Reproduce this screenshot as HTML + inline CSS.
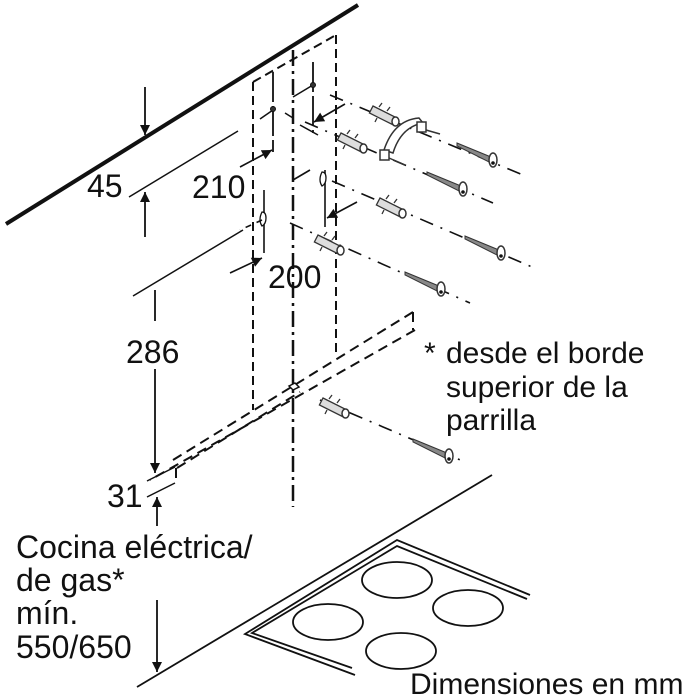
<!DOCTYPE html>
<html><head><meta charset="utf-8"><style>
html,body{margin:0;padding:0;background:#fff;}
svg{display:block;}
text{font-family:"Liberation Sans",Arial,sans-serif;fill:#111;}
</style></head><body>
<svg width="700" height="700" viewBox="0 0 700 700" xmlns="http://www.w3.org/2000/svg">
<defs>
<marker id="ah" viewBox="0 0 10 10" refX="10" refY="5" markerWidth="12" markerHeight="10" orient="auto" markerUnits="userSpaceOnUse">
<path d="M0,0 L10,5 L0,10 z" fill="#111"/></marker>
<g id="anchor">
<path d="M0,0 L24,12 L20.4,19 L-3.6,7 z" fill="#ddd" stroke="#333" stroke-width="1.3"/>
<path d="M6,1 l3,-4 M14,5 l3,-4 M4,12 l-2,4" stroke="#333" stroke-width="1.3"/>
<ellipse cx="22.5" cy="15.5" rx="3.5" ry="4.5" fill="#fff" stroke="#333" stroke-width="1.5"/>
</g>
<g id="screw">
<path d="M0,0 L34,14 L34,20 L0,3 z" fill="#888" stroke="#333" stroke-width="1"/>
<ellipse cx="36" cy="17" rx="4" ry="7" fill="#fff" stroke="#333" stroke-width="1.5"/>
<circle cx="36" cy="20" r="1.8" fill="#111"/>
</g>
</defs>

<g stroke="#111" fill="none">
<line x1="6" y1="224" x2="358" y2="5" stroke-width="4"/>
<line x1="145" y1="87" x2="145" y2="135" stroke-width="1.8" marker-end="url(#ah)"/>
<line x1="129" y1="197" x2="238" y2="131" stroke-width="1.5"/>
<line x1="145" y1="237" x2="145" y2="192" stroke-width="1.8" marker-end="url(#ah)"/>
<line x1="133" y1="296" x2="243" y2="230" stroke-width="1.5"/>
<line x1="155" y1="290" x2="155" y2="321" stroke-width="1.8"/>
<line x1="155" y1="369" x2="155" y2="473" stroke-width="1.8" marker-end="url(#ah)"/>
<line x1="147" y1="481" x2="175" y2="467" stroke-width="1.5"/>
<line x1="147" y1="497" x2="175" y2="483" stroke-width="1.5"/>
<line x1="157" y1="526" x2="157" y2="497" stroke-width="1.8" marker-end="url(#ah)"/>
<line x1="157" y1="600" x2="157" y2="672" stroke-width="1.8" marker-end="url(#ah)"/>
<line x1="137" y1="687" x2="492" y2="475" stroke-width="1.8"/>

<g stroke-width="2" stroke-dasharray="9,5">
<line x1="253" y1="82" x2="253" y2="410"/>
<line x1="253" y1="82" x2="336" y2="35"/>
<line x1="336" y1="35" x2="336" y2="357"/>
</g>
<line x1="293" y1="50" x2="293" y2="507" stroke-width="2.5" stroke-dasharray="16,5,3,5"/>
<line x1="273" y1="72" x2="273" y2="152" stroke-width="1.8" stroke-dasharray="30,4"/>
<line x1="313" y1="62" x2="313" y2="133" stroke-width="1.8" stroke-dasharray="30,4"/>
<line x1="264" y1="190" x2="264" y2="253" stroke-width="1.6"/>
<line x1="325" y1="170" x2="325" y2="227" stroke-width="1.6"/>
<polyline points="260,119 273,110" stroke-width="1.5"/>
<polyline points="293,97 313,85" stroke-width="1.5"/>
<line x1="285" y1="113" x2="293" y2="118" stroke-width="1.5"/>
<line x1="300" y1="125" x2="318" y2="135" stroke-width="1.5"/>
<circle cx="273" cy="109" r="2.5" fill="#333"/>
<circle cx="313" cy="85" r="2.5" fill="#333"/>
<path d="M262,212 q-4,8 0,14 q4,-2 4,-8 q0,-6 -4,-6z" stroke-width="1.3" fill="#fff"/>
<path d="M322,172 q-4,8 0,14 q4,-2 4,-8 q0,-6 -4,-6z" stroke-width="1.3" fill="#fff"/>
<line x1="240" y1="167" x2="272" y2="150" stroke-width="1.6" marker-end="url(#ah)"/>
<line x1="345" y1="104" x2="314" y2="122" stroke-width="1.6" marker-end="url(#ah)"/>
<line x1="230" y1="273" x2="262" y2="258" stroke-width="1.6" marker-end="url(#ah)"/>
<line x1="357" y1="202" x2="327" y2="218" stroke-width="1.6" marker-end="url(#ah)"/>

<g stroke-width="1.6" stroke-dasharray="14,8,2,8">
<line x1="330" y1="95" x2="523" y2="175"/>
<line x1="305" y1="122" x2="493" y2="203"/>
<line x1="332" y1="181" x2="532" y2="267"/>
<line x1="290" y1="223" x2="470" y2="303"/>
<line x1="320" y1="400" x2="465" y2="462"/>
</g>
<line x1="262" y1="220" x2="240" y2="230" stroke-width="1.6" stroke-dasharray="6,6"/>
<line x1="293" y1="180" x2="310" y2="170" stroke-width="1.6"/>

<g stroke-width="2" stroke-dasharray="10,6">
<line x1="173" y1="460" x2="413" y2="312"/>
<line x1="177" y1="468" x2="300" y2="392"/>
<line x1="413" y1="312" x2="413" y2="330"/>
<line x1="415" y1="330" x2="150" y2="480"/>
<line x1="176" y1="478" x2="176" y2="465"/>
</g>
<path d="M289,386 l6,-3 l4,4 l-6,3z" stroke-width="1.5" fill="#fff"/>

<g stroke-width="1.8">
<polyline points="355,675 245,634 397,540 530,595"/>
<polyline points="352,668 252,633 397,546 527,599"/>
<ellipse cx="397" cy="580" rx="35" ry="18"/>
<ellipse cx="468" cy="608" rx="35" ry="18"/>
<ellipse cx="328" cy="622" rx="35" ry="18"/>
<ellipse cx="401" cy="651" rx="35" ry="18"/>
</g>
</g>

<use href="#anchor" x="373" y="106"/>
<use href="#anchor" x="341" y="133"/>
<use href="#anchor" x="380" y="198"/>
<use href="#anchor" x="318" y="235"/>
<use href="#anchor" x="323" y="398"/>
<use href="#screw" x="457" y="143"/>
<use href="#screw" x="427" y="172"/>
<use href="#screw" x="465" y="236"/>
<use href="#screw" x="405" y="272"/>
<use href="#screw" x="413" y="439"/>
<g stroke="#333" stroke-width="1.5" fill="#fff">
<path d="M384,150 q10,-30 35,-32 l4,5 q-22,4 -30,30z"/>
<rect x="380" y="150" width="9" height="10"/>
<rect x="417" y="122" width="9" height="10"/>
<line x1="389" y1="158" x2="405" y2="165"/>
<line x1="426" y1="130" x2="440" y2="134"/>
</g>

<text x="87" y="197" font-size="32">45</text>
<text x="192" y="198" font-size="32">210</text>
<text x="268" y="288" font-size="32">200</text>
<text x="126" y="363" font-size="32">286</text>
<text x="107" y="507" font-size="32">31</text>
<text x="16" y="558" font-size="32">Cocina eléctrica/</text>
<text x="16" y="591" font-size="32">de gas*</text>
<text x="16" y="624" font-size="32">mín.</text>
<text x="16" y="658" font-size="32">550/650</text>
<text x="424" y="363" font-size="30">*</text>
<text x="446" y="363" font-size="30">desde el borde</text>
<text x="446" y="397" font-size="30">superior de la</text>
<text x="446" y="430" font-size="30">parrilla</text>
<text x="410" y="694" font-size="30">Dimensiones en mm</text>
</svg>
</body></html>
